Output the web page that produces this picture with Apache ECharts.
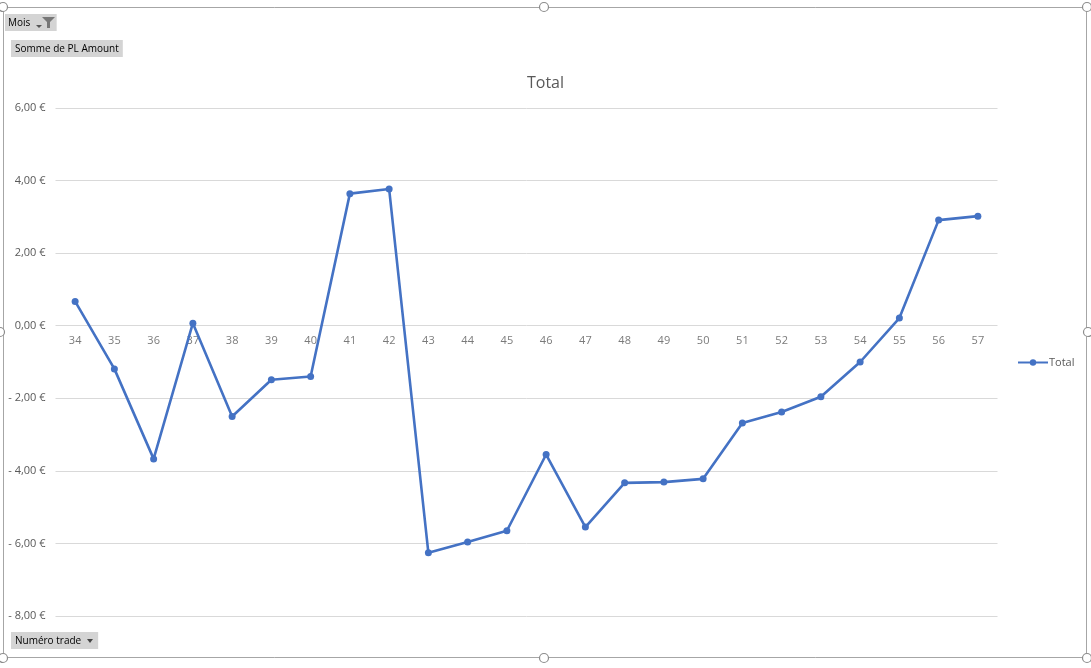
<!DOCTYPE html>
<html>
<head>
<meta charset="utf-8">
<script src="https://cdn.jsdelivr.net/npm/echarts@6/dist/echarts.min.js"></script>
<style>
  html, body { margin: 0; padding: 0; background: #fff; }
  #chart { width: 1091px; height: 668px; }
</style>
</head>
<body>
<div id="chart"></div>
<script>
const trades = ['34', '35', '36', '37', '38', '39', '40', '41', '42', '43', '44', '45',
  '46', '47', '48', '49', '50', '51', '52', '53', '54', '55', '56', '57'];
const totals = [0.67, -1.19, -3.67, 0.07, -2.50, -1.49, -1.40, 3.64, 3.77, -6.26, -5.96, -5.65,
  -3.55, -5.55, -4.33, -4.31, -4.22, -2.68, -2.38, -1.96, -1.00, 0.21, 2.91, 3.02];
const yTicks = [-8, -6, -4, -2, 0, 2, 4, 6];

const FONT = 'Open Sans';
const TEXT = '#595959';
const LINE = '#4472C4';

function euro(v) {
  const s = Math.abs(v).toFixed(2).replace('.', ',') + ' €';
  return v < 0 ? '- ' + s : s;
}

const chart = echarts.init(document.getElementById('chart'));

const handles = [[3, 7], [544, 7], [1087, 7], [0, 332], [1088, 332], [3, 658], [544, 658], [1087, 658]];

const option = {
  backgroundColor: '#fff',
  animation: false,
  title: {
    text: 'Total',
    left: 'center',
    top: 70,
    textStyle: { fontFamily: FONT, fontSize: 16, fontWeight: 'normal', color: TEXT }
  },
  grid: { left: 55.5, right: 93.5, top: 108, bottom: 52, containLabel: false },
  legend: {
    data: ['Total'],
    left: 1012,
    top: 352,
    itemWidth: 30,
    itemHeight: 8,
    itemGap: 2,
    textStyle: { fontFamily: FONT, fontSize: 11, color: TEXT, padding: [0, 0, 0, -4] }
  },
  xAxis: {
    type: 'category',
    data: trades,
    boundaryGap: true,
    axisLine: { show: false },
    axisTick: { show: false },
    axisLabel: { show: false }
  },
  yAxis: {
    type: 'value',
    min: yTicks[0],
    max: yTicks[yTicks.length - 1],
    interval: 2,
    axisLine: { show: false },
    axisTick: { show: false },
    axisLabel: {
      fontFamily: FONT, fontSize: 11, color: TEXT, margin: 10,
      formatter: euro
    },
    splitLine: { lineStyle: { color: '#d9d9d9', width: 1 } }
  },
  series: [{
    name: 'Total',
    type: 'line',
    data: totals,
    symbol: 'circle',
    symbolSize: 7,
    z: 3,
    lineStyle: { color: LINE, width: 2.6 },
    itemStyle: { color: LINE }
  }, {
    // category labels sitting on the zero line, as Excel draws them
    name: 'labels',
    type: 'scatter',
    data: trades.map(function (t) { return [t, 0]; }),
    symbolSize: 0,
    silent: true,
    z: 1,
    label: {
      show: true,
      position: 'bottom',
      distance: 10,
      formatter: function (p) { return p.value[0]; },
      fontFamily: FONT, fontSize: 11, color: TEXT
    }
  }],
  graphic: [
    {
      type: 'rect', silent: true, z: -1,
      shape: { x: 3.5, y: 7.5, width: 1083, height: 650 },
      style: { fill: 'none', stroke: '#a6a6a6', lineWidth: 1 }
    },
    {
      type: 'text', left: 5, top: 14,
      style: {
        text: 'Mois         ', fontFamily: FONT, fontSize: 10, fill: '#000',
        backgroundColor: '#d4d4d4', padding: [4, 3, 3, 3]
      }
    },
    {
      type: 'polygon', silent: true,
      shape: { points: [[36, 25], [42, 25], [39, 28]] },
      style: { fill: '#555' }
    },
    {
      type: 'polygon', silent: true,
      shape: { points: [[42, 17], [55, 17], [50, 22], [50, 28], [47, 28], [47, 22]] },
      style: { fill: '#777' }
    },
    {
      type: 'text', left: 11, top: 40,
      style: {
        text: 'Somme de PL Amount', fontFamily: FONT, fontSize: 10, fill: '#000',
        backgroundColor: '#d4d4d4', padding: [4, 4, 3, 4]
      }
    },
    {
      type: 'text', left: 11, top: 632,
      style: {
        text: 'Numéro trade     ', fontFamily: FONT, fontSize: 10, fill: '#000',
        backgroundColor: '#d4d4d4', padding: [4, 4, 3, 4]
      }
    },
    {
      type: 'polygon', silent: true,
      shape: { points: [[87, 639], [93, 639], [90, 643]] },
      style: { fill: '#444' }
    }
  ].concat(handles.map(function (p) {
    return {
      type: 'circle', silent: true, z: 10,
      shape: { cx: p[0], cy: p[1], r: 4.5 },
      style: { fill: '#fff', stroke: '#8c8c8c', lineWidth: 1.2 }
    };
  }))
};

chart.setOption(option);
</script>
</body>
</html>
